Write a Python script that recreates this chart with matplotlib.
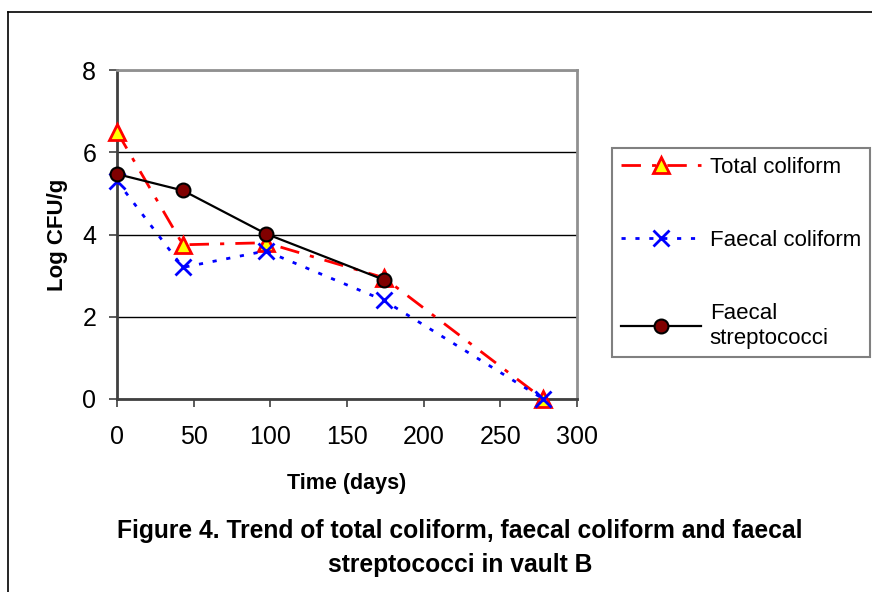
import matplotlib
matplotlib.use("Agg")
import matplotlib.pyplot as plt
from matplotlib.lines import Line2D

plt.rcParams['font.family'] = ['Liberation Sans', 'DejaVu Sans']

# data
days_total = [0, 43, 97, 174, 278]
total_coliform = [6.5, 3.75, 3.8, 2.95, 0.0]

days_faecal = [0, 43, 97, 174, 278]
faecal_coliform = [5.3, 3.2, 3.6, 2.4, 0.0]

days_strep = [0, 43, 97, 174]
faecal_strep = [5.47, 5.07, 4.02, 2.9]

x_ticks = [0, 50, 100, 150, 200, 250, 300]
y_ticks = [0, 2, 4, 6, 8]

fig = plt.figure(figsize=(8.72, 5.92), dpi=100)
ax = fig.add_axes([117 / 872, 1 - 399 / 592, 460 / 872, 329 / 592])

ax.plot(days_total, total_coliform, color='red', linestyle=(0, (7, 4, 1.5, 4)), linewidth=2,
        marker='^', markersize=11, markerfacecolor='yellow', markeredgecolor='red',
        markeredgewidth=2, label='Total coliform', zorder=3, clip_on=False)
ax.plot(days_faecal, faecal_coliform, color='blue', linestyle=(0, (1.5, 3.5)), linewidth=2,
        marker='x', markersize=11, markeredgewidth=2, label='Faecal coliform', zorder=3.5,
        clip_on=False)
ax.plot(days_strep, faecal_strep, color='black', linestyle='-', linewidth=1.6,
        marker='o', markersize=10, markerfacecolor='#800000', markeredgecolor='black',
        markeredgewidth=1.5, label='Faecal\nstreptococci', zorder=4, clip_on=False)

ax.set_xlim(0, 300)
ax.set_ylim(0, 8)
ax.set_xticks(x_ticks)
ax.set_yticks(y_ticks)
ax.tick_params(axis='both', direction='out', length=6, width=1.2, color='#404040',
               labelsize=18)
ax.tick_params(axis='x', pad=13)
ax.tick_params(axis='y', pad=9)
ax.yaxis.grid(True, color='black', linewidth=1)
ax.set_axisbelow(True)
for side in ['left', 'bottom']:
    ax.spines[side].set_color('#404040')
    ax.spines[side].set_linewidth(2)
for side in ['top', 'right']:
    ax.spines[side].set_color('#909090')
    ax.spines[side].set_linewidth(2)

ax.set_xlabel('Time (days)', fontsize=15.5, fontweight='bold', labelpad=17)
ax.set_ylabel('Log CFU/g', fontsize=16, fontweight='bold', labelpad=10)

leg = fig.legend(loc='upper left', bbox_to_anchor=(612 / 872, 1 - 148 / 592),
                 borderaxespad=0, fontsize=16, handlelength=3.6, labelspacing=2.35,
                 borderpad=0.4, handletextpad=0.4, fancybox=False, framealpha=1,
                 edgecolor='#808080')
leg.get_frame().set_linewidth(1.5)

fig.text(460 / 872, 1 - 531 / 592, 'Figure 4. Trend of total coliform, faecal coliform and faecal',
         ha='center', va='center', fontsize=17.7, fontweight='bold')
fig.text(460 / 872, 1 - 565 / 592, 'streptococci in vault B',
         ha='center', va='center', fontsize=17.7, fontweight='bold')

# outer frame
y_top = 1 - 12 / 592
x_left = 8 / 872
fig.add_artist(Line2D([x_left, 1], [y_top, y_top], color='black', linewidth=1.2))
fig.add_artist(Line2D([x_left, x_left], [0, y_top], color='black', linewidth=1.2))

fig.savefig('out.png', dpi=100)
